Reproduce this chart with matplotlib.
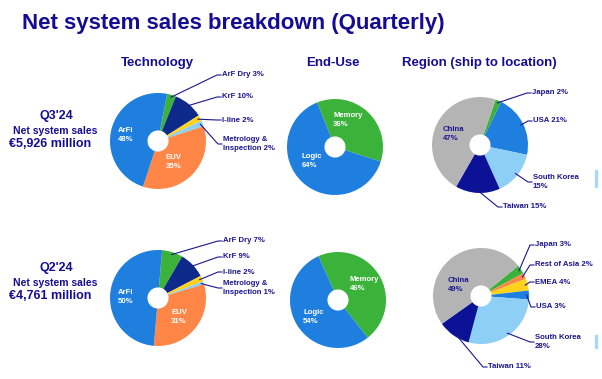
import matplotlib.pyplot as plt
from matplotlib.lines import Line2D
from matplotlib.patches import Rectangle
import numpy as np

plt.rcParams['font.family'] = ['Liberation Sans', 'DejaVu Sans']

W, H = 602, 379

# data
quarters = ["Q3'24", "Q2'24"]
sales = ['€5,926 million', '€4,761 million']

tech_names = ['ArF Dry', 'KrF', 'I-line', 'Metrology &\nInspection', 'EUV', 'ArFi']
tech_q3 = [3, 10, 2, 2, 35, 48]
tech_q2 = [7, 9, 2, 1, 31, 50]

enduse_names = ['Memory', 'Logic']
enduse_q3 = [36, 64]
enduse_q2 = [46, 54]

region_names_q3 = ['Japan', 'USA', 'South Korea', 'Taiwan', 'China']
region_q3 = [2, 21, 15, 15, 47]
region_names_q2 = ['Japan', 'Rest of Asia', 'EMEA', 'USA', 'South Korea', 'Taiwan', 'China']
region_q2 = [3, 2, 4, 3, 28, 11, 49]

# colours
BLUE = '#1f7fdf'
ORANGE = '#ff8646'
GREEN = '#3bb33b'
NAVY = '#0d2a8a'
DKNAVY = '#0b1296'
YELLOW = '#ffd21c'
LTBLUE = '#8dcff5'
GRAY = '#b4b4b4'
TXT = '#1c168f'

tech_colors = [GREEN, NAVY, YELLOW, LTBLUE, ORANGE, BLUE]
enduse_colors = [GREEN, BLUE]
region_colors_q3 = [GREEN, BLUE, LTBLUE, DKNAVY, GRAY]
region_colors_q2 = [GREEN, ORANGE, YELLOW, BLUE, LTBLUE, DKNAVY, GRAY]

R = 48  # pie radius in px
LBL = 5.6

fig = plt.figure(figsize=(W / 100, H / 100), dpi=100)


def fpx(x, y):
    # top-left pixel -> figure pixels
    return x, H - y


def draw_pie(cx, cy, values, names, colors, offset, labels):
    ax = fig.add_axes([(cx - R) / W, 1 - (cy + R) / H, 2 * R / W, 2 * R / H])
    ax.pie(values, colors=colors, startangle=90 - offset, counterclock=False,
           radius=1, wedgeprops=dict(width=0.78, linewidth=0))
    ax.set_xlim(-1, 1)
    ax.set_ylim(-1, 1)
    ax.axis('off')

    total = float(sum(values))
    bounds = np.cumsum([0] + list(values)) / total * 360 + offset
    for idx, kind, tx, ty, sep in labels:
        pct = f'{values[idx]}%'
        text = names[idx] + sep + pct
        if kind == 'in':
            col = TXT if colors[idx] == GRAY else 'white'
            fig.text(*fpx(tx, ty), text, color=col, fontsize=LBL, fontweight='bold',
                     ha='left', va='center', linespacing=1.25,
                     transform=None)
        else:
            mid = np.deg2rad((bounds[idx] + bounds[idx + 1]) / 2)
            anchor = ax.transData.transform((0.95 * np.sin(mid), 0.95 * np.cos(mid)))
            cxp, cyp = fpx(tx - 5, ty)
            fig.add_artist(Line2D([anchor[0], cxp, tx - 1], [anchor[1], cyp, cyp],
                                  color=TXT, lw=0.8, transform=None))
            fig.text(*fpx(tx, ty), text, color=TXT, fontsize=LBL, fontweight='bold',
                     ha='left', va='center', linespacing=1.25, transform=None)
    return ax


# title and headers
fig.text(*fpx(22, 23), 'Net system sales breakdown (Quarterly)', color='#150c94',
         fontsize=16, fontweight='bold', ha='left', va='center', transform=None)
for hx, htxt in [(157, 'Technology'), (333, 'End-Use'), (479, 'Region (ship to location)')]:
    fig.text(*fpx(hx, 63), htxt, color='#150c94', fontsize=9.5, fontweight='bold',
             ha='center', va='center', transform=None)

# quarter blocks on the left
for q, s, y0 in zip(quarters, sales, [116, 268]):
    fig.text(*fpx(56, y0), q, color='#150c94', fontsize=9, fontweight='bold',
             ha='center', va='center', transform=None)
    fig.text(*fpx(55, y0 + 15), 'Net system sales', color='#150c94', fontsize=7.5,
             fontweight='bold', ha='center', va='center', transform=None)
    fig.text(*fpx(50, y0 + 28), s, color='#150c94', fontsize=9, fontweight='bold',
             ha='center', va='center', transform=None)

# Q3'24 row
draw_pie(158, 141, tech_q3, tech_names, tech_colors, 11, [
    (0, 'out', 222, 75, ' '), (1, 'out', 222, 97, ' '), (2, 'out', 222, 120, ' '),
    (3, 'out', 223, 144, ' '), (4, 'in', 166, 162, '\n'), (5, 'in', 118, 135, '\n')])
draw_pie(335, 147, enduse_q3, enduse_names, enduse_colors, -22, [
    (0, 'in', 333, 120, '\n'), (1, 'in', 302, 161, '\n')])
draw_pie(480, 145, region_q3, region_names_q3, region_colors_q3, 19, [
    (0, 'out', 532, 93, ' '), (1, 'out', 533, 121, ' '), (2, 'out', 533, 182, '\n'),
    (3, 'out', 503, 207, ' '), (4, 'in', 443, 134, '\n')])

# Q2'24 row
draw_pie(158, 298, tech_q2, tech_names, tech_colors, 5, [
    (0, 'out', 223, 241, ' '), (1, 'out', 223, 257, ' '), (2, 'out', 223, 272, ' '),
    (3, 'out', 223, 288, ' '), (4, 'in', 171, 317, '\n'), (5, 'in', 118, 297, '\n')])
draw_pie(338, 300, enduse_q2, enduse_names, enduse_colors, -24, [
    (0, 'in', 350, 284, '\n'), (1, 'in', 303, 317, '\n')])
draw_pie(481, 296, region_q2, region_names_q2, region_colors_q2, 51, [
    (0, 'out', 535, 245, ' '), (1, 'out', 535, 265, ' '), (2, 'out', 535, 282, ' '),
    (3, 'out', 536, 307, ' '), (4, 'out', 535, 342, '\n'), (5, 'out', 488, 367, ' '),
    (6, 'in', 448, 285, '\n')])

# slivers of the neighbouring slide element at the right edge
for y0, y1 in [(170, 187), (335, 348)]:
    fig.add_artist(Rectangle((595, H - y1), 2, y1 - y0, color='#a9d9f7',
                             transform=None))

fig.savefig('out.png', dpi=100)
